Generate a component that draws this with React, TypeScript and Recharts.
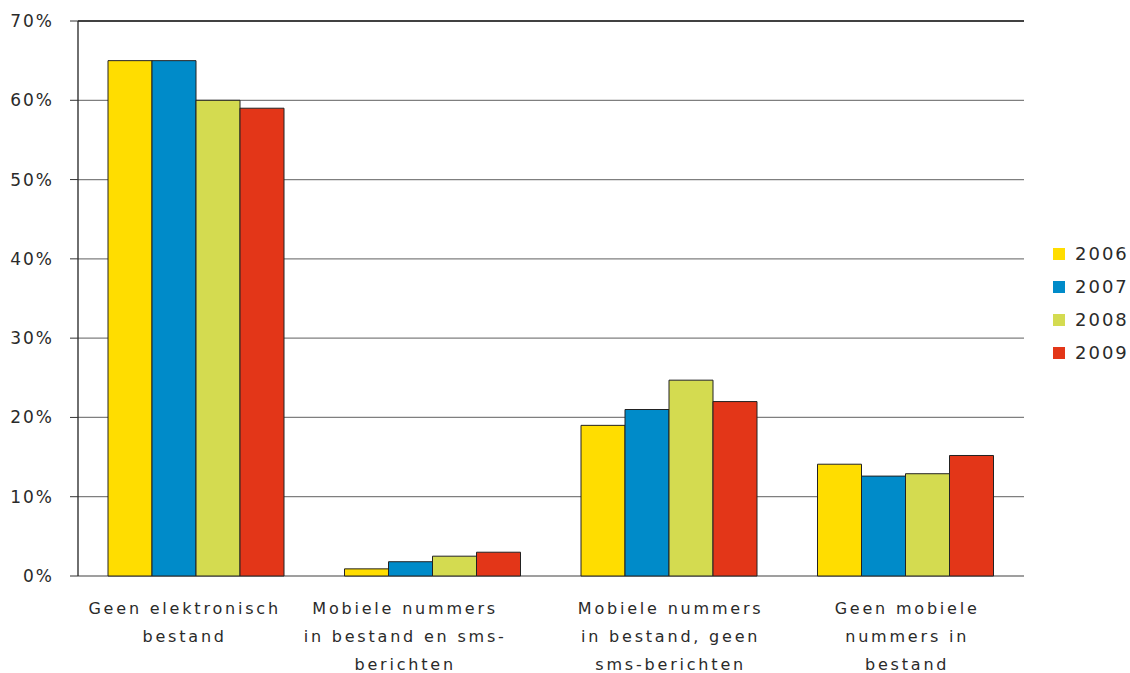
import React from 'react';
import { BarChart, Bar, XAxis, YAxis, CartesianGrid, Legend, ReferenceLine } from 'recharts';

const categories = [
  'Geen elektronisch bestand',
  'Mobiele nummers in bestand en sms-berichten',
  'Mobiele nummers in bestand, geen sms-berichten',
  'Geen mobiele nummers in bestand',
];
const categoryLines = [
  ['Geen elektronisch', 'bestand'],
  ['Mobiele nummers', 'in bestand en sms-', 'berichten'],
  ['Mobiele nummers', 'in bestand, geen', 'sms-berichten'],
  ['Geen mobiele', 'nummers in', 'bestand'],
];
const seriesNames = ['2006', '2007', '2008', '2009'];
const seriesColors = ['#FFDD00', '#008BC9', '#D4DB50', '#E33618'];
const v2006 = [65, 0.9, 19, 14.1];
const v2007 = [65, 1.8, 21, 12.6];
const v2008 = [60, 2.5, 24.7, 12.9];
const v2009 = [59, 3.0, 22, 15.2];
const yTicks = [0, 10, 20, 30, 40, 50, 60, 70];
const boundaryTicks = [0, 1, 2, 3, 4];

// layout: horizontal nudge of each category label (as in the reference)
const LABEL_DX = [-13, -29, 0, 0];

const seriesValues = [v2006, v2007, v2008, v2009];
const data = categories.map((c, i) => {
  const row: any = { name: c, idx: i };
  seriesNames.forEach((s, k) => { row[s] = seriesValues[k][i]; });
  return row;
});

const FONT = '"DejaVu Sans", sans-serif';
const TEXT = '#2a2a2a';

const CatTick = (props: any) => {
  const { x, y, index } = props;
  const lines = categoryLines[index] || [];
  const dx = LABEL_DX[index] || 0;
  return (
    <g>
      {lines.map((l, i) => (
        <text key={i} x={x + dx + 1.4} y={y + 37.5 + i * 28.3} textAnchor="middle" fontFamily={FONT} fontSize={16} letterSpacing={2.8} fill={TEXT}>
          {l}
        </text>
      ))}
    </g>
  );
};

const LegendContent = () => (
  <div style={{ fontFamily: FONT }}>
    {seriesNames.map((s, i) => (
      <div key={s} style={{ display: 'flex', alignItems: 'center', height: 33 }}>
        <div style={{ width: 12, height: 12, background: seriesColors[i], marginRight: 10 }} />
        <span style={{ fontSize: 18, letterSpacing: 2, color: TEXT, whiteSpace: 'nowrap' }}>{s}</span>
      </div>
    ))}
  </div>
);

export default function App() {
  return (
    <div style={{ position: 'fixed', left: 0, top: 0, width: 1130, height: 673, overflow: 'hidden', background: '#fff' }}>
      <BarChart
        width={1130}
        height={673}
        data={data}
        margin={{ top: 21, right: 26, left: 18, bottom: 0 }}
        barCategoryGap={30}
        barGap={0}
      >
        <CartesianGrid vertical={false} stroke="#7f7f7f" strokeWidth={1.3} />
        <XAxis xAxisId="b" type="number" dataKey="idx" domain={[0, 4]} ticks={boundaryTicks} allowDataOverflow height={0} tickSize={6} tickFormatter={() => ''} axisLine={{ stroke: '#555', strokeWidth: 1.3 }} tickLine={{ stroke: '#333' }} />
        <XAxis xAxisId="a" dataKey="name" height={97} axisLine={false} tickLine={false} tickSize={0} tickMargin={0} interval={0} tick={<CatTick />} />
        <YAxis
          width={60}
          domain={[0, 70]}
          ticks={yTicks}
          tickSize={8}
          tickMargin={16}
          tickFormatter={(v: number) => `${v}%`}
          axisLine={{ stroke: '#222', strokeWidth: 1.3 }}
          tickLine={{ stroke: '#333' }}
          tick={{ fontFamily: FONT, fontSize: 17, letterSpacing: 2, fill: TEXT }}
        />
        <ReferenceLine xAxisId="a" y={70} stroke="#222" strokeWidth={1.3} />
        <Legend layout="vertical" align="right" verticalAlign="middle" content={<LegendContent />} wrapperStyle={{ left: 1053, top: 237, width: 80 }} />
        {seriesNames.map((s, i) => (
          <Bar key={s} xAxisId="a" dataKey={s} fill={seriesColors[i]} stroke="#222" strokeWidth={1} isAnimationActive={false} />
        ))}
      </BarChart>
    </div>
  );
}
